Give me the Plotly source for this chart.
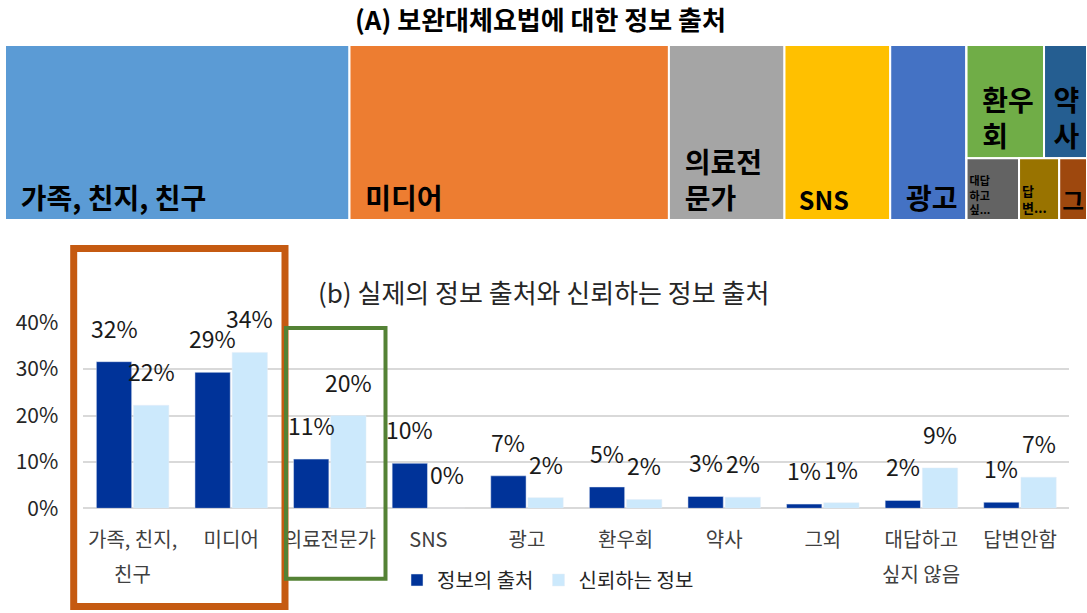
import plotly.graph_objects as go

# ---------------- data ----------------
categories = ["가족, 친지, 친구", "미디어", "의료전문가", "SNS", "광고",
              "환우회", "약사", "그외", "대답하고 싶지 않음", "답변안함"]
tick_line1 = ["가족, 친지,", "미디어", "의료전문가", "SNS", "광고",
              "환우회", "약사", "그외", "대답하고", "답변안함"]
tick_line2 = ["친구", "", "", "", "", "", "", "", "싶지 않음", ""]

source_vals = [0.316, 0.293, 0.106, 0.097, 0.070, 0.046, 0.0255, 0.009, 0.017, 0.013]
trust_vals = [0.222, 0.336, 0.200, 0.0, 0.023, 0.019, 0.024, 0.012, 0.087, 0.067]

series_names = ["정보의 출처", "신뢰하는 정보"]

# treemap display labels (as shown in tiles)
tm_labels = ["&nbsp;&nbsp;가족, 친지, 친구", "&nbsp;&nbsp;미디어",
             "&nbsp;&nbsp;의료전<br>&nbsp;&nbsp;문가", "&nbsp;&nbsp;SNS",
             "&nbsp;&nbsp;광고", "&nbsp;&nbsp;환우<br>&nbsp;&nbsp;회",
             "&nbsp;약<br>&nbsp;사", "그", "대답<br>하고<br>싶...", "답<br>변..."]
tm_colors = ["#5B9BD5", "#ED7D31", "#A5A5A5", "#FFC000", "#4472C4",
             "#70AD47", "#255E91", "#9E480E", "#636363", "#997300"]
tm_fontsize = [28, 28, 28, 25, 28, 28, 28, 28, 11, 13]
tm_group = ["", "", "", "", "", "g_top", "g_top", "g_bot", "g_bot", "g_bot"]
tm_order = [0, 1, 2, 3, 4, 5, 6, 8, 9, 7]

title_a = "(A) 보완대체요법에 대한 정보 출처"
title_b = "(b) 실제의 정보 출처와 신뢰하는 정보 출처"

FONT = "Noto Sans CJK KR"
W, H = 1087, 613

# ---------------- treemap ----------------
ids, labels, parents, values, colors, texts, fsizes = [], [], [], [], [], [], []
ids += ["g_rest", "g_top", "g_bot"]
labels += ["rest", "top", "bot"]
parents += ["", "g_rest", "g_rest"]
values += [0, 0, 0]
colors += ["#FFFFFF"] * 3
texts += ["", "", ""]
fsizes += [10, 10, 10]
leaf_ids, leaf_labels, leaf_parents, leaf_vals, leaf_cols, leaf_txt, leaf_fs = [], [], [], [], [], [], []
for i in tm_order:
    leaf_ids.append("n%d" % i)
    leaf_labels.append(categories[i])
    grp = tm_group[i]
    leaf_parents.append(grp if grp else "")
    leaf_vals.append(source_vals[i])
    leaf_cols.append(tm_colors[i])
    leaf_txt.append(tm_labels[i])
    leaf_fs.append(tm_fontsize[i])
ids_all = leaf_ids[:5] + ids + leaf_ids[5:]
labels_all = leaf_labels[:5] + labels + leaf_labels[5:]
parents_all = leaf_parents[:5] + parents + leaf_parents[5:]
values_all = leaf_vals[:5] + values + leaf_vals[5:]
colors_all = leaf_cols[:5] + colors + leaf_cols[5:]
texts_all = leaf_txt[:5] + texts + leaf_txt[5:]
fs_all = leaf_fs[:5] + fsizes + leaf_fs[5:]

treemap = go.Treemap(
    ids=ids_all, labels=labels_all, parents=parents_all, values=values_all,
    branchvalues="remainder", sort=False,
    text=texts_all, texttemplate="<b>%{text}</b>",
    textposition="bottom left",
    textfont=dict(family=FONT, size=fs_all, color="#000000"),
    marker=dict(colors=colors_all, line=dict(color="#FFFFFF", width=2),
                pad=dict(t=0, l=0, r=0, b=0)),
    tiling=dict(packing="slice-dice", pad=0),
    pathbar=dict(visible=False),
    hoverinfo="skip",
    domain=dict(x=[5 / W, 1.0], y=[1 - 220 / H, 1 - 45 / H]),
    root=dict(color="#FFFFFF"),
)

fig = go.Figure()
fig.add_trace(treemap)

# ---------------- bars ----------------
idx = list(range(len(categories)))
fig.add_trace(go.Bar(x=idx, y=source_vals, name=series_names[0],
                     marker=dict(color="#003399"), hoverinfo="skip"))
fig.add_trace(go.Bar(x=idx, y=trust_vals, name=series_names[1],
                     marker=dict(color="#CCE9FC"), hoverinfo="skip"))

annotations = []
bar_off = 0.1884
for i in idx:
    for vals, off in ((source_vals, -bar_off), (trust_vals, bar_off)):
        annotations.append(dict(
            x=i + off, y=vals[i], xref="x", yref="y",
            text="%d%%" % round(vals[i] * 100 + 1e-9),
            showarrow=False, yanchor="bottom", yshift=15,
            font=dict(family=FONT, size=23, color="#1A1A1A")))
for i in idx:
    if tick_line2[i]:
        annotations.append(dict(
            x=i, y=1 - 573 / H, xref="x", yref="paper", text=tick_line2[i],
            showarrow=False, yanchor="middle",
            font=dict(family=FONT, size=20, color="#404040")))
annotations.append(dict(x=540 / W, y=1 - 19 / H, xref="paper", yref="paper",
                        text="<b>%s</b>" % title_a, showarrow=False,
                        yanchor="middle",
                        font=dict(family=FONT, size=26, color="#000000")))
annotations.append(dict(x=543 / W, y=1 - 291 / H, xref="paper", yref="paper",
                        text=title_b, showarrow=False, yanchor="middle",
                        font=dict(family=FONT, size=26, color="#262626")))

# highlight boxes (decorations)
shapes = [
    dict(type="rect", xref="paper", yref="paper", x0=73.7 / W, x1=285 / W,
         y0=1 - 606.5 / H, y1=1 - 248.5 / H,
         line=dict(color="#C55A11", width=7)),
    dict(type="rect", xref="paper", yref="paper", x0=286 / W, x1=385.5 / W,
         y0=1 - 578.7 / H, y1=1 - 328 / H,
         line=dict(color="#548235", width=4)),
]

fig.update_layout(
    width=W, height=H,
    margin=dict(l=0, r=0, t=0, b=0, autoexpand=False),
    paper_bgcolor="#FFFFFF", plot_bgcolor="#FFFFFF",
    font=dict(family=FONT, color="#262626"),
    barmode="group", bargap=0.246, bargroupgap=0.05,
    xaxis=dict(domain=[83.3 / W, 1069.3 / W], range=[-0.5, len(categories) - 0.5],
               tickmode="array", tickvals=idx, ticktext=tick_line1,
               tickfont=dict(family=FONT, size=20, color="#404040"),
               showgrid=False, zeroline=False, showline=False, ticks="",
               ticklabelstandoff=18, anchor="y", automargin=False),
    yaxis=dict(domain=[1 - 508.3 / H, 1 - 322.7 / H], range=[0, 0.4],
               tickformat=".0%", dtick=0.1,
               tickfont=dict(family=FONT, size=21, color="#262626"),
               showgrid=True, gridcolor="#D9D9D9", gridwidth=1.5,
               zeroline=True, zerolinecolor="#D9D9D9", zerolinewidth=1.5,
               showline=False, ticks="", ticklabelstandoff=24, anchor="x",
               automargin=False),
    legend=dict(orientation="h", x=548 / W, xanchor="center",
                y=1 - 580 / H, yanchor="middle",
                font=dict(family=FONT, size=20, color="#262626"),
                bgcolor="rgba(0,0,0,0)", itemclick=False),
    annotations=annotations,
    shapes=shapes,
)

fig.write_html("out.html",
               config={"displayModeBar": False},
               post_script="document.body.style.margin='0px';"
                           "document.body.style.overflow='hidden';")
